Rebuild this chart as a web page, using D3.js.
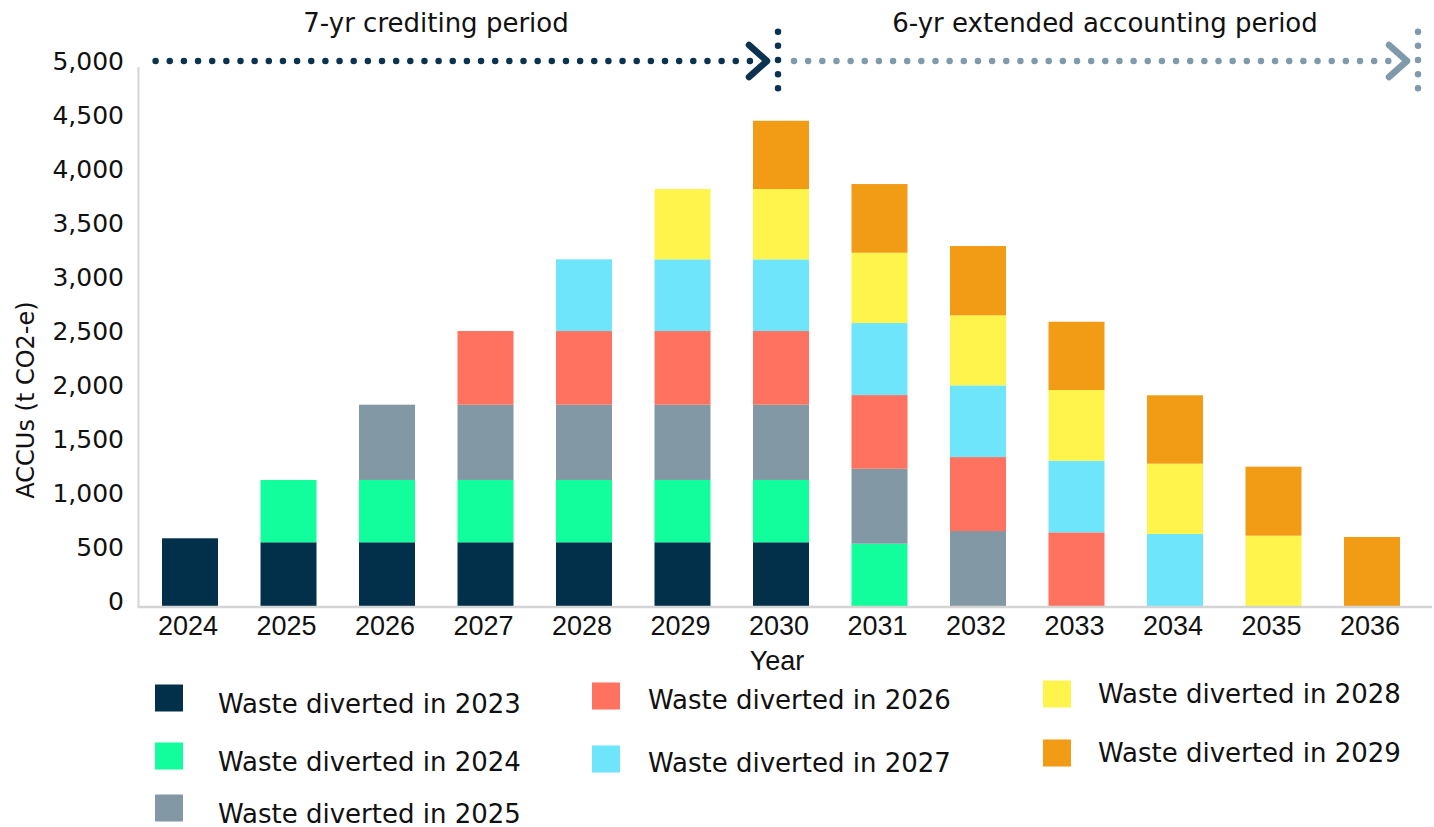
<!DOCTYPE html>
<html>
<head>
<meta charset="utf-8">
<script src="https://cdn.jsdelivr.net/npm/d3@7"></script>
<style>
  body { margin: 0; background: #fff; }
  svg { display: block; }
</style>
</head>
<body>
<svg width="1434" height="827"></svg>
<script>
// years on the x axis
let years = ["2024","2025","2026","2027","2028","2029","2030","2031","2032","2033","2034","2035","2036"];

// ACCUs per vintage of diverted waste, one value per year (0 = no credit that year)
let waste2023 = [627, 590, 590, 590, 590, 590, 590,   0,   0,   0,   0,   0,   0];
let waste2024 = [  0, 577, 577, 577, 577, 577, 577, 577,   0,   0,   0,   0,   0];
let waste2025 = [  0,   0, 697, 697, 697, 697, 697, 694, 694,   0,   0,   0,   0];
let waste2026 = [  0,   0,   0, 682, 682, 682, 682, 682, 685, 682,   0,   0,   0];
let waste2027 = [  0,   0,   0,   0, 664, 664, 664, 667, 664, 663, 667,   0,   0];
let waste2028 = [  0,   0,   0,   0,   0, 651, 651, 651, 648, 655, 651, 651,   0];
let waste2029 = [  0,   0,   0,   0,   0,   0, 632, 636, 642, 632, 633, 639, 639];

let seriesNames = ["Waste diverted in 2023","Waste diverted in 2024","Waste diverted in 2025",
                   "Waste diverted in 2026","Waste diverted in 2027","Waste diverted in 2028",
                   "Waste diverted in 2029"];
let seriesValues = [waste2023, waste2024, waste2025, waste2026, waste2027, waste2028, waste2029];
let colors = ["#02304b", "#12fd9b", "#8298a5", "#ff7260", "#6fe5fc", "#fff44b", "#f29c16"];

let yTicks = [0, 500, 1000, 1500, 2000, 2500, 3000, 3500, 4000, 4500, 5000];
let periodLabels = ["7-yr crediting period", "6-yr extended accounting period"];

let svg = d3.select("svg");
let wide = "'DejaVu Sans', sans-serif";
let narrow = "'Liberation Sans', Arial, sans-serif";

// build rows for d3.stack
let table = years.map((yr, i) => {
  let row = { year: yr };
  seriesNames.forEach((s, j) => { row[s] = seriesValues[j][i]; });
  return row;
});
let stacked = d3.stack().keys(seriesNames)(table);

let x = d3.scaleBand()
  .domain(years)
  .range([138, 1424])
  .paddingInner(0.4315)
  .paddingOuter(0.2437);

let y = d3.scaleLinear()
  .domain([0, 5000])
  .range([606, 66]);

// bars
let layers = svg.append("g").selectAll("g")
  .data(stacked)
  .enter().append("g")
  .attr("fill", (d, i) => colors[i]);

layers.selectAll("rect")
  .data(d => d.filter(p => p[1] - p[0] > 0))
  .enter().append("rect")
  .attr("x", d => x(d.data.year))
  .attr("width", x.bandwidth())
  .attr("y", d => y(d[1]))
  .attr("height", d => y(d[0]) - y(d[1]));

// y axis (labels sit a little above their gridline in the source)
let yAxis = svg.append("g")
  .attr("transform", "translate(124,-6)")
  .call(d3.axisLeft(y).tickValues(yTicks).tickSize(0).tickPadding(0).tickFormat(d3.format(",")));
yAxis.select(".domain").remove();
yAxis.selectAll("text")
  .attr("x", 0)
  .attr("dy", "0.36em")
  .style("font-family", wide)
  .style("font-size", "25px")
  .attr("fill", "#111");

svg.append("line")
  .attr("x1", 138.5).attr("x2", 138.5)
  .attr("y1", 67).attr("y2", y(0) + 1)
  .attr("stroke", "#d4d4d4")
  .attr("stroke-width", 2);

// x axis
let xAxis = svg.append("g")
  .attr("transform", "translate(-2," + y(0) + ")")
  .call(d3.axisBottom(x).tickSize(0));
xAxis.select(".domain").remove();
xAxis.selectAll("text")
  .attr("y", 29)
  .attr("dy", 0)
  .style("font-family", narrow)
  .style("font-size", "27px")
  .attr("fill", "#111");

svg.append("line")
  .attr("x1", 137.5).attr("x2", 1432)
  .attr("y1", y(0) + 1).attr("y2", y(0) + 1)
  .attr("stroke", "#d4d4d4")
  .attr("stroke-width", 2.5);

svg.append("text")
  .attr("x", 777).attr("y", 670)
  .attr("text-anchor", "middle")
  .style("font-family", narrow)
  .style("font-size", "27px")
  .attr("fill", "#111")
  .text("Year");

svg.append("text")
  .attr("transform", "translate(34,400) rotate(-90)")
  .attr("text-anchor", "middle")
  .style("font-family", wide)
  .style("font-size", "24px")
  .attr("fill", "#111")
  .text("ACCUs (t CO2-e)");

// period arrows at the top
let dark = "#0b3350", grey = "#7f9aaa";
let sepX1 = x("2030") + x.bandwidth() / 2 - 3;
let sepX2 = x("2036") + x.bandwidth() + 18;
let arrowY = 61;

function dots(x1, y1, x2, y2, col) {
  svg.append("line")
    .attr("x1", x1).attr("y1", y1).attr("x2", x2).attr("y2", y2)
    .attr("stroke", col)
    .attr("stroke-width", 6.5)
    .attr("stroke-linecap", "round")
    .attr("stroke-dasharray", "0 14.15");
}
function chevron(tipX, col) {
  svg.append("path")
    .attr("d", d3.line()([[tipX - 18, arrowY - 16], [tipX, arrowY], [tipX - 18, arrowY + 16]]))
    .attr("fill", "none")
    .attr("stroke", col)
    .attr("stroke-width", 6.5)
    .attr("stroke-linecap", "round")
    .attr("stroke-linejoin", "round");
}

dots(155.6, arrowY, sepX1 - 28, arrowY, dark);
chevron(sepX1 - 11, dark);
dots(sepX1, arrowY - 29.3, sepX1, arrowY + 28, dark);

dots(sepX1 + 16, arrowY, sepX2 - 28, arrowY, grey);
chevron(sepX2 - 11, grey);
dots(sepX2, arrowY - 29.3, sepX2, arrowY + 28, grey);

svg.selectAll(".period")
  .data(periodLabels)
  .enter().append("text")
  .attr("class", "period")
  .attr("x", (d, i) => i === 0 ? 436 : 1105)
  .attr("y", 32)
  .attr("text-anchor", "middle")
  .style("font-family", wide)
  .style("font-size", "26px")
  .attr("fill", "#111")
  .text(d => d);

// legend: three columns laid out like the source graphic
let legendCols = [
  { sq: 155, tx: 218, rows: [698, 756, 808], shift: 5 },
  { sq: 592, tx: 648, rows: [696, 759], shift: 3 },
  { sq: 1043, tx: 1098, rows: [694, 753], shift: -1 }
];
let legendItems = [];
let k = 0;
legendCols.forEach(c => {
  c.rows.forEach(r => {
    legendItems.push({ name: seriesNames[k], color: colors[k], sq: c.sq, tx: c.tx, cy: r, shift: c.shift });
    k += 1;
  });
});

let leg = svg.append("g").selectAll("g")
  .data(legendItems)
  .enter().append("g");
leg.append("rect")
  .attr("x", d => d.sq)
  .attr("y", d => d.cy - 13.5)
  .attr("width", 28)
  .attr("height", 27)
  .attr("fill", d => d.color);
leg.append("text")
  .attr("x", d => d.tx)
  .attr("y", d => d.cy + d.shift + 9.5)
  .style("font-family", wide)
  .style("font-size", "26px")
  .attr("fill", "#111")
  .text(d => d.name);
</script>
</body>
</html>
